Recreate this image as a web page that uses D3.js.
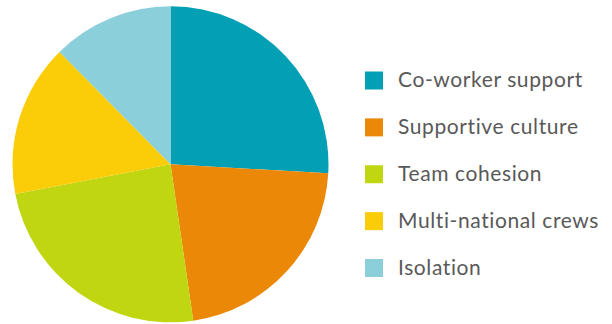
<!DOCTYPE html>
<html>
<head>
<meta charset="utf-8">
<script src="https://cdn.jsdelivr.net/npm/d3@7"></script>
<style>
  html, body { margin: 0; padding: 0; background: #fff; }
  svg { display: block; }
  .legend text { font-family: "Lato", "Noto Sans", sans-serif; fill: #595959; }
</style>
</head>
<body>
<svg id="chart" width="612" height="324"></svg>
<script>
// Share of responses by factor (percent)
const categories = ["Co-worker support", "Supportive culture", "Team cohesion", "Multi-national crews", "Isolation"];
const values = [25.9, 21.8, 24.3, 15.6, 12.4];
const colors = ["#029fb5", "#eb8807", "#bfd611", "#fbcc08", "#8bcfdb"];

const svg = d3.select("#chart");
const cx = 170.5, cy = 164.3, radius = 158;

const color = d3.scaleOrdinal().domain(categories).range(colors);

const pie = d3.pie().sort(null).value(d => d.value);
const arc = d3.arc().innerRadius(0).outerRadius(radius);

const data = categories.map((c, i) => ({ name: c, value: values[i] }));

svg.append("g")
  .attr("transform", `translate(${cx},${cy})`)
  .selectAll("path")
  .data(pie(data))
  .join("path")
  .attr("d", arc)
  .attr("fill", d => color(d.data.name));

// Legend
const legendY = d3.scalePoint().domain(categories).range([80.5, 268]);
const legend = svg.append("g").attr("class", "legend");
const rows = legend.selectAll("g")
  .data(categories)
  .join("g")
  .attr("transform", d => `translate(365,${legendY(d)})`);

rows.append("rect")
  .attr("x", 0).attr("y", -9)
  .attr("width", 18).attr("height", 18)
  .attr("fill", d => color(d));

rows.append("text")
  .attr("x", 33).attr("y", 6.5)
  .attr("font-size", 21)
  .attr("letter-spacing", 0.6)
  .text(d => d);
</script>
</body>
</html>
